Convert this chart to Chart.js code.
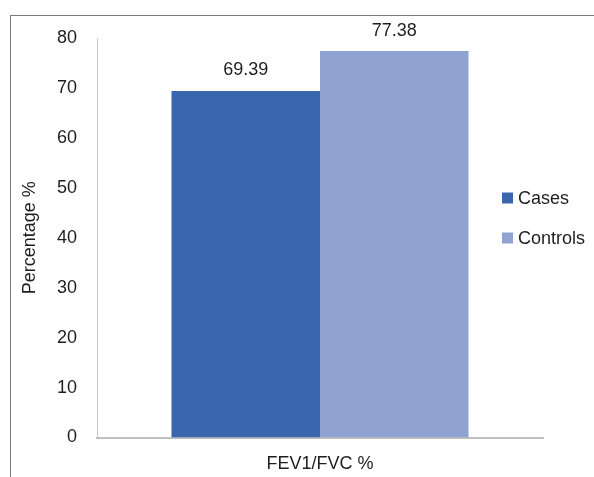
<!DOCTYPE html>
<html>
<head>
<meta charset="utf-8">
<script src="https://cdn.jsdelivr.net/npm/chart.js@4"></script>
<style>
  html, body { margin:0; padding:0; background:#fff; }
  #wrap { position:relative; width:594px; height:477px; overflow:hidden; }
  #frame { position:absolute; left:10px; top:15px; width:700px; height:600px;
           border-left:1.5px solid #7a7a7a; border-top:1.5px solid #7a7a7a; pointer-events:none; }
  canvas { position:absolute; left:0; top:0; }
</style>
</head>
<body>
<div id="wrap">
  <canvas id="c" width="594" height="477"></canvas>
  <div id="frame"></div>
</div>
<script>
const categories = ['FEV1/FVC %'];
const seriesNames = ['Cases', 'Controls'];
const casesValues = [69.39];
const controlsValues = [77.38];
const seriesColors = ['#3A66AE', '#8FA2D1'];
const yTicks = [0, 10, 20, 30, 40, 50, 60, 70, 80];

const FONT = '"Liberation Sans", Arial, sans-serif';
const TEXT = '#1e1e1e';

const valueLabels = {
  id: 'valueLabels',
  afterDatasetsDraw(chart) {
    const ctx = chart.ctx;
    ctx.save();
    ctx.font = '18px ' + FONT;
    ctx.fillStyle = TEXT;
    ctx.textAlign = 'center';
    ctx.textBaseline = 'middle';
    chart.data.datasets.forEach((ds, i) => {
      chart.getDatasetMeta(i).data.forEach((bar, j) => {
        ctx.fillText(ds.data[j].toFixed(2), bar.x, bar.y - 20.5);
      });
    });
    ctx.restore();
  }
};

const sideLegend = {
  id: 'sideLegend',
  afterDraw(chart) {
    const ctx = chart.ctx;
    ctx.save();
    ctx.font = '18px ' + FONT;
    ctx.textBaseline = 'middle';
    ctx.textAlign = 'left';
    const x0 = 502, yStart = 198, step = 40, box = 11;
    chart.data.datasets.forEach((ds, i) => {
      const cy = yStart + i * step;
      ctx.fillStyle = ds.backgroundColor;
      ctx.fillRect(x0, cy - box / 2, box, box);
      ctx.fillStyle = TEXT;
      ctx.fillText(ds.label, x0 + 16, cy + 1);
    });
    ctx.restore();
  }
};

new Chart(document.getElementById('c'), {
  type: 'bar',
  data: {
    labels: categories,
    datasets: [
      { label: seriesNames[0], data: casesValues, backgroundColor: seriesColors[0] },
      { label: seriesNames[1], data: controlsValues, backgroundColor: seriesColors[1] }
    ]
  },
  options: {
    responsive: false,
    animation: false,
    devicePixelRatio: 1,
    layout: { padding: { left: 0, right: 51, top: 38, bottom: 1 } },
    datasets: { bar: { categoryPercentage: 0.666, barPercentage: 1.0 } },
    plugins: { legend: { display: false }, tooltip: { enabled: false } },
    scales: {
      x: {
        afterFit(scale) { scale.height = 38.5; },
        grid: { display: false, drawTicks: false },
        border: { display: true, color: '#BFBFBF', width: 2 },
        ticks: { padding: 16, color: TEXT, font: { family: FONT, size: 18 } }
      },
      y: {
        min: 0, max: 80,
        afterBuildTicks(scale) { scale.ticks = yTicks.map(v => ({ value: v })); },
        afterFit(scale) { scale.width = 97; },
        grid: { display: false, drawTicks: false },
        border: { display: true, color: '#C8C8C8', width: 1 },
        ticks: { padding: 20, color: TEXT, font: { family: FONT, size: 18 } },
        title: { display: true, text: 'Percentage %', color: TEXT,
                 font: { family: FONT, size: 18 }, padding: { top: 19, bottom: 0 } }
      }
    }
  },
  plugins: [valueLabels, sideLegend]
});
</script>
</body>
</html>
